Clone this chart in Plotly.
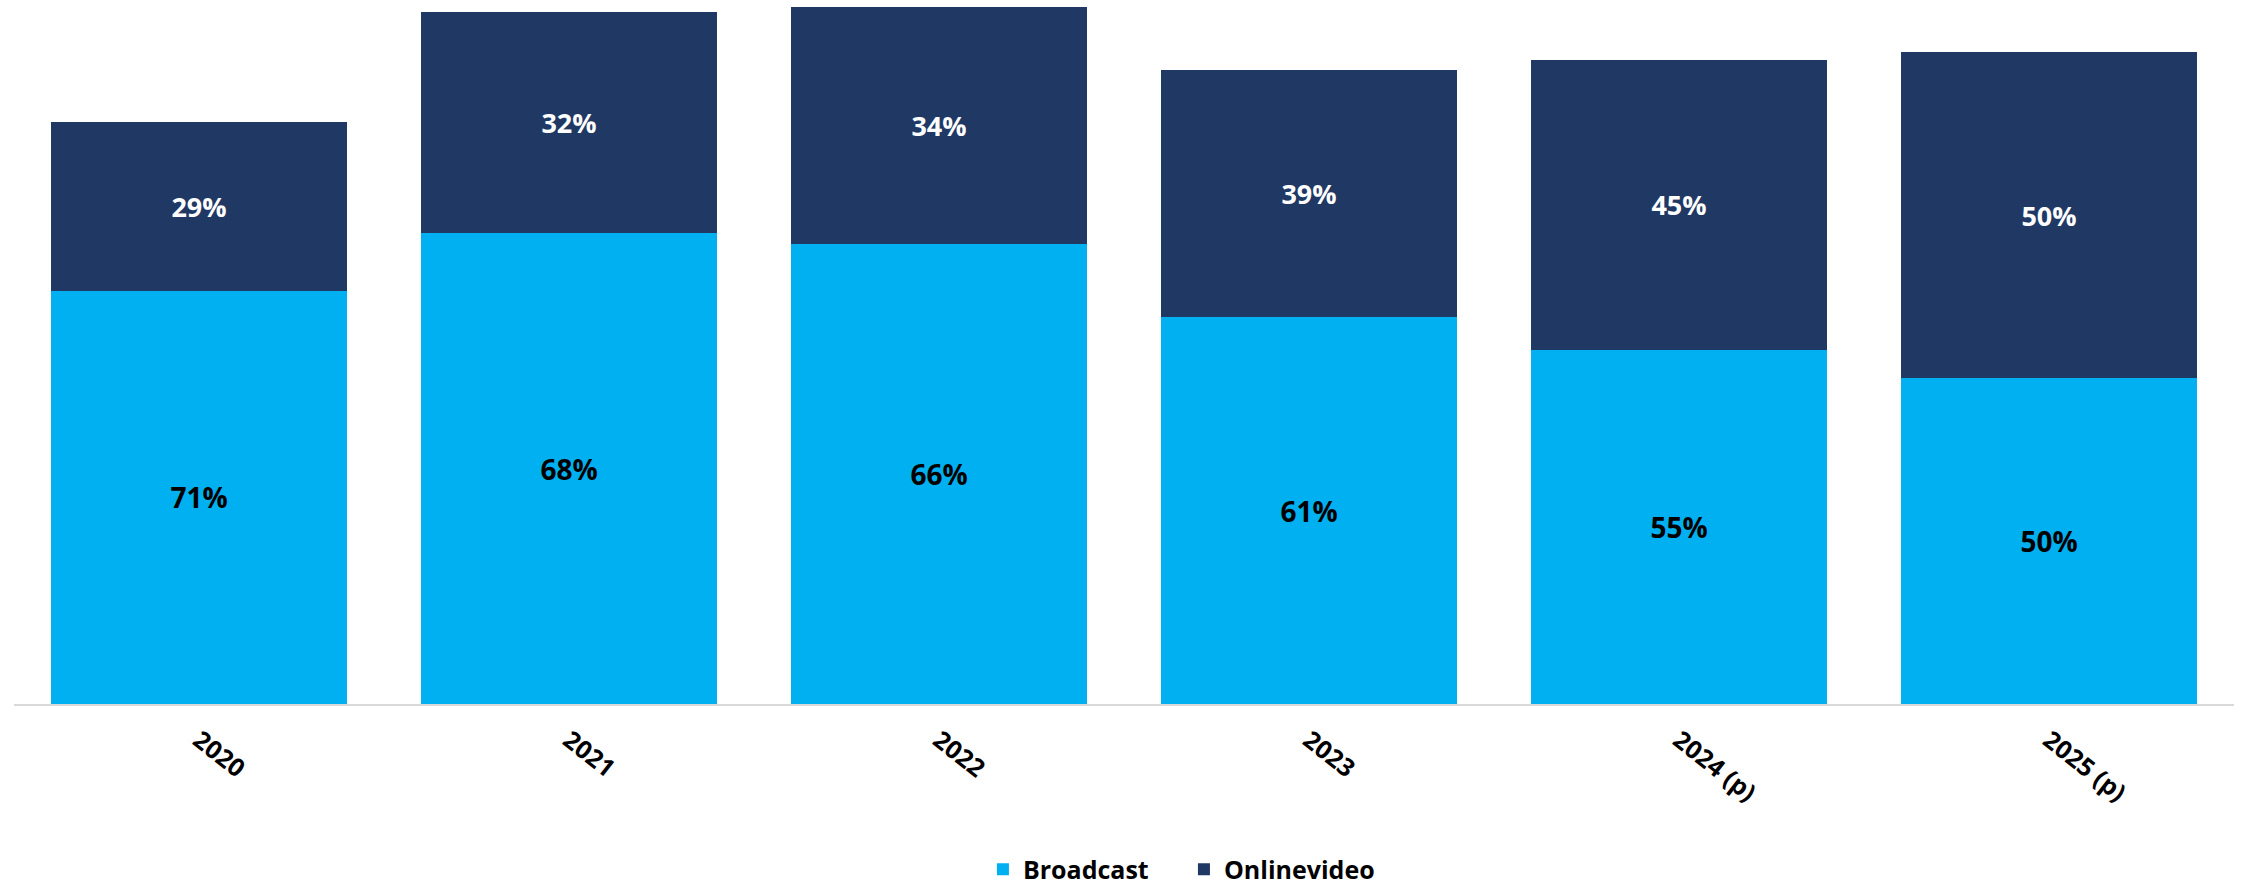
import plotly.graph_objects as go

# Video advertising: total per year and the share of each channel
years = ["2020", "2021", "2022", "2023", "2024 (p)", "2025 (p)"]
totals = [582, 692, 697, 634, 644, 652]
broadcast_share = [71, 68, 66, 61, 55, 50]
online_share = [29, 32, 34, 39, 45, 50]

broadcast = [t * s / 100 for t, s in zip(totals, broadcast_share)]
online = [t * s / 100 for t, s in zip(totals, online_share)]

FONT = "Open Sans"

fig = go.Figure()
fig.add_trace(go.Bar(
    x=years, y=broadcast, name="Broadcast",
    marker=dict(color="#00B0F0", line=dict(width=0)),
    text=[f"{s}%" for s in broadcast_share],
    textposition="inside", insidetextanchor="middle",
    textfont=dict(family=FONT, size=28, color="#000000", weight="bold"),
    hoverinfo="skip",
))
fig.add_trace(go.Bar(
    x=years, y=online, name="Onlinevideo",
    marker=dict(color="#203864", line=dict(width=0)),
    text=[f"{s}%" for s in online_share],
    textposition="inside", insidetextanchor="middle",
    textfont=dict(family=FONT, size=27, color="#FFFFFF", weight="bold"),
    hoverinfo="skip",
))

fig.update_layout(
    barmode="stack",
    bargap=0.2,
    width=2244, height=889,
    margin=dict(l=14, r=10, t=0, b=185, autoexpand=False),
    paper_bgcolor="white", plot_bgcolor="white",
    font=dict(family=FONT, color="#000000"),
    legend=dict(
        orientation="h", x=0.527, xanchor="center", y=-0.235, yanchor="middle",
        font=dict(family=FONT, size=25, weight="bold", color="#000000"),
        traceorder="normal", entrywidth=156, entrywidthmode="pixels",
    ),
    xaxis=dict(
        tickangle=38, showline=True, linecolor="#D9D9D9", linewidth=2,
        ticks="", showgrid=False, zeroline=False, automargin=False,
        ticklabelstandoff=10,
        tickfont=dict(family=FONT, size=25, weight="bold", color="#000000"),
    ),
    yaxis=dict(range=[0, 704], visible=False, showgrid=False, zeroline=False),
)

fig.write_html("out.html")
